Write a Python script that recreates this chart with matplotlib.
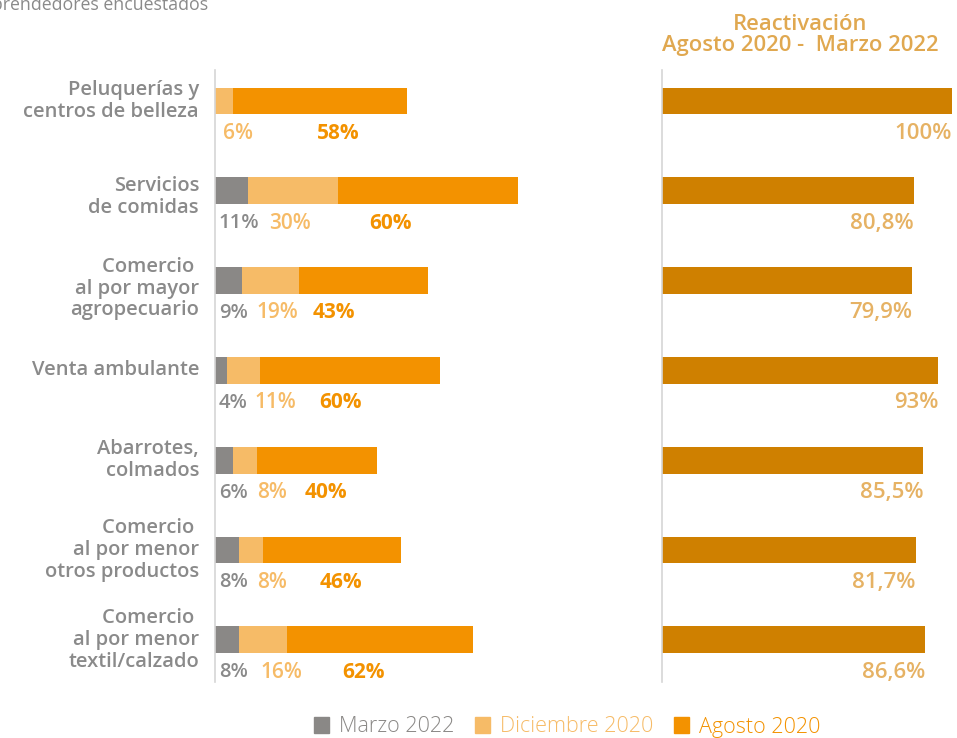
import matplotlib.pyplot as plt
from matplotlib.patches import Patch

# sectors and shares (%) of surveyed entrepreneurs
sectores = ['Peluquerías y\ncentros de belleza', 'Servicios\nde comidas',
            'Comercio \nal por mayor\nagropecuario', 'Venta ambulante',
            'Abarrotes,\ncolmados', 'Comercio \nal por menor\notros productos',
            'Comercio \nal por menor\ntextil/calzado']
marzo_2022 = [0, 11, 9, 4, 6, 8, 8]
diciembre_2020 = [6, 30, 19, 11, 8, 8, 16]
agosto_2020 = [58, 60, 43, 60, 40, 46, 62]
reactivacion = [100, 80.8, 79.9, 93, 85.5, 81.7, 86.6]
reactivacion_txt = ['100%', '80,8%', '79,9%', '93%', '85,5%', '81,7%', '86,6%']

# where the small value labels sit under each bar (left panel units)
lbl_x_dic = [2.7, 18, 13.7, 13.3, 14, 14, 15]
lbl_x_ago = [34, 51.3, 32.7, 34.7, 30, 35, 42.3]
# small vertical nudge of the sector names
name_dy = [0, 0.07, 0.09, 0, 0, 0, 0]

c_gris = '#8a8886'
c_claro = '#f6bb67'
c_naranja = '#f39200'
c_oscuro = '#cf8000'
c_tan = '#e6b264'
c_texto = '#8a8a8a'

plt.rcParams['font.family'] = ['Open Sans', 'DejaVu Sans']

W, H = 957, 738
fig = plt.figure(figsize=(W / 100, H / 100), dpi=100)

def px_axes(x0, x1, y0, y1):
    return fig.add_axes([x0 / W, 1 - y1 / H, (x1 - x0) / W, (y1 - y0) / H])

ax = px_axes(215, 640, 70, 682)
ax2 = px_axes(662, 955, 70, 682)

y = list(range(len(sectores)))
bh = 0.3
off = 0.36

# left panel: stacked bars
left2 = marzo_2022
left3 = [a + b for a, b in zip(marzo_2022, diciembre_2020)]
ax.barh(y, marzo_2022, height=bh, color=c_gris)
ax.barh(y, diciembre_2020, left=left2, height=bh, color=c_claro)
ax.barh(y, agosto_2020, left=left3, height=bh, color=c_naranja)
ax.set_xlim(0, (640 - 215) / 3)
ax.set_ylim(6.47, -0.345)

for i in y:
    if marzo_2022[i] > 0:
        ax.text(1.3, i + off, f'{marzo_2022[i]}%', color=c_texto, fontsize=14.5,
                fontweight='semibold', ha='left', va='center')
    ax.text(lbl_x_dic[i], i + off, f'{diciembre_2020[i]}%', color=c_claro,
            fontsize=15, fontweight='semibold', ha='left', va='center')
    ax.text(lbl_x_ago[i], i + off, f'{agosto_2020[i]}%', color=c_naranja,
            fontsize=15, fontweight='bold', ha='left', va='center')

    ax.text(-5.3, i + name_dy[i], sectores[i], fontsize=14.5, fontweight='semibold',
            color=c_texto, ha='right', va='center', linespacing=1.12)

ax.set_xticks([])
ax.set_yticks([])

# right panel: reactivation rate
base = -46
ax2.barh(y, [v - base for v in reactivacion], left=base, height=bh, color=c_oscuro)
ax2.set_xlim(base, 101.5)
ax2.set_ylim(6.47, -0.345)
for i in y:
    ax2.text(reactivacion[i], i + off, reactivacion_txt[i], color=c_tan,
             fontsize=16, fontweight='semibold', ha='right', va='center')
ax2.set_xticks([])
ax2.set_yticks([])

for a in (ax, ax2):
    for s in ('top', 'right', 'bottom'):
        a.spines[s].set_visible(False)
    a.spines['left'].set_color('#d6d6d6')
    a.spines['left'].set_linewidth(1.2)

fig.text(800 / W, 1 - 35 / H, 'Reactivación\nAgosto 2020 -  Marzo 2022',
         color='#e0a850', fontsize=15.8, fontweight='semibold',
         ha='center', va='center', linespacing=1.0)
fig.text(208 / W, 1 - 10 / H, 'Porcentaje de emprendedores encuestados',
         color='#8a8a8a', fontsize=12.8, ha='right', va='baseline')

handles = [Patch(color=c_gris), Patch(color=c_claro), Patch(color=c_naranja)]
fig.legend(handles, ['Marzo 2022', 'Diciembre 2020', 'Agosto 2020'],
           loc='center', bbox_to_anchor=(567 / W, 1 - 727 / H), ncol=3,
           frameon=False, prop={'size': 15.5, 'weight': 'light'},
           handlelength=0.7, handleheight=0.7,
           handletextpad=0.47, columnspacing=0.95,
           labelcolor=[c_gris, c_claro, c_naranja])

fig.savefig('out.png', dpi=100)
